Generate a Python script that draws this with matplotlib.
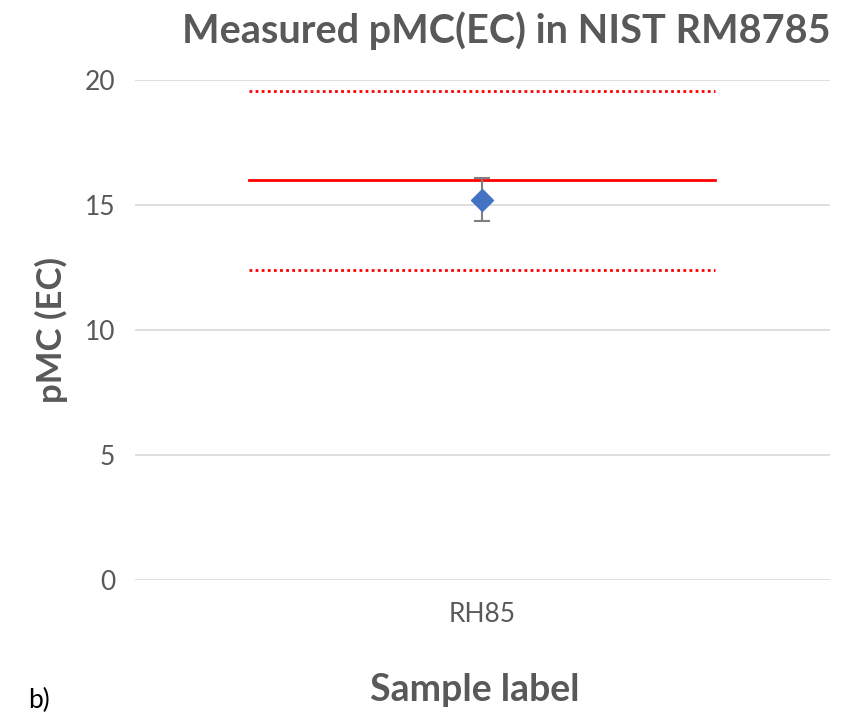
import numpy as np
import matplotlib.pyplot as plt

plt.rcParams['font.family'] = ['Lato', 'DejaVu Sans']

# data
samples = ['RH85']
pmc = [15.22]
pmc_err = [0.85]
ref_value = 16.0
ref_upper = 19.56
ref_lower = 12.4
ref_span = [0.33, 1.67]

grey = '#595959'

fig = plt.figure(figsize=(8.63, 7.15), dpi=100)
ax = fig.add_axes([0.156, 0.189, 0.806, 0.699])

xpos = np.arange(1, len(samples) + 1)
ax.plot(ref_span, [ref_value, ref_value], color='#ff0000', lw=2)
ax.plot(ref_span, [ref_upper, ref_upper], color='#ff0000', lw=2, ls=(0, (1, 1.2)))
ax.plot(ref_span, [ref_lower, ref_lower], color='#ff0000', lw=2, ls=(0, (1, 1.2)))
ax.errorbar(xpos, pmc, yerr=pmc_err, fmt='D', color='#4472c4', ms=11,
            ecolor='#7f7f7f', elinewidth=1.5, capsize=6, capthick=1.5, zorder=5)

ax.set_xlim(0, 2)
ax.set_ylim(0, 20)
ax.set_yticks([0, 5, 10, 15, 20])
ax.set_xticks(xpos)
ax.set_xticklabels(samples)
ax.grid(axis='y', color='#d9d9d9', lw=1.2)
ax.set_axisbelow(True)
for s in ax.spines.values():
    s.set_visible(False)
ax.tick_params(axis='both', length=0, colors=grey, labelsize=19, pad=14)
ax.tick_params(axis='x', pad=16)

ax.set_title('Measured pMC(EC) in NIST RM8785', fontsize=28.5, fontweight='bold',
             color=grey, loc='right', pad=27)
ax.set_ylabel('pMC (EC)', fontsize=25, fontweight='bold', color=grey, labelpad=12)
fig.text(0.55, 0.02, 'Sample label', fontsize=27, fontweight='bold', color=grey, ha='center')
fig.text(0.033, 0.01, 'b)', fontsize=19, color='black')

fig.savefig('out.png', dpi=100)
